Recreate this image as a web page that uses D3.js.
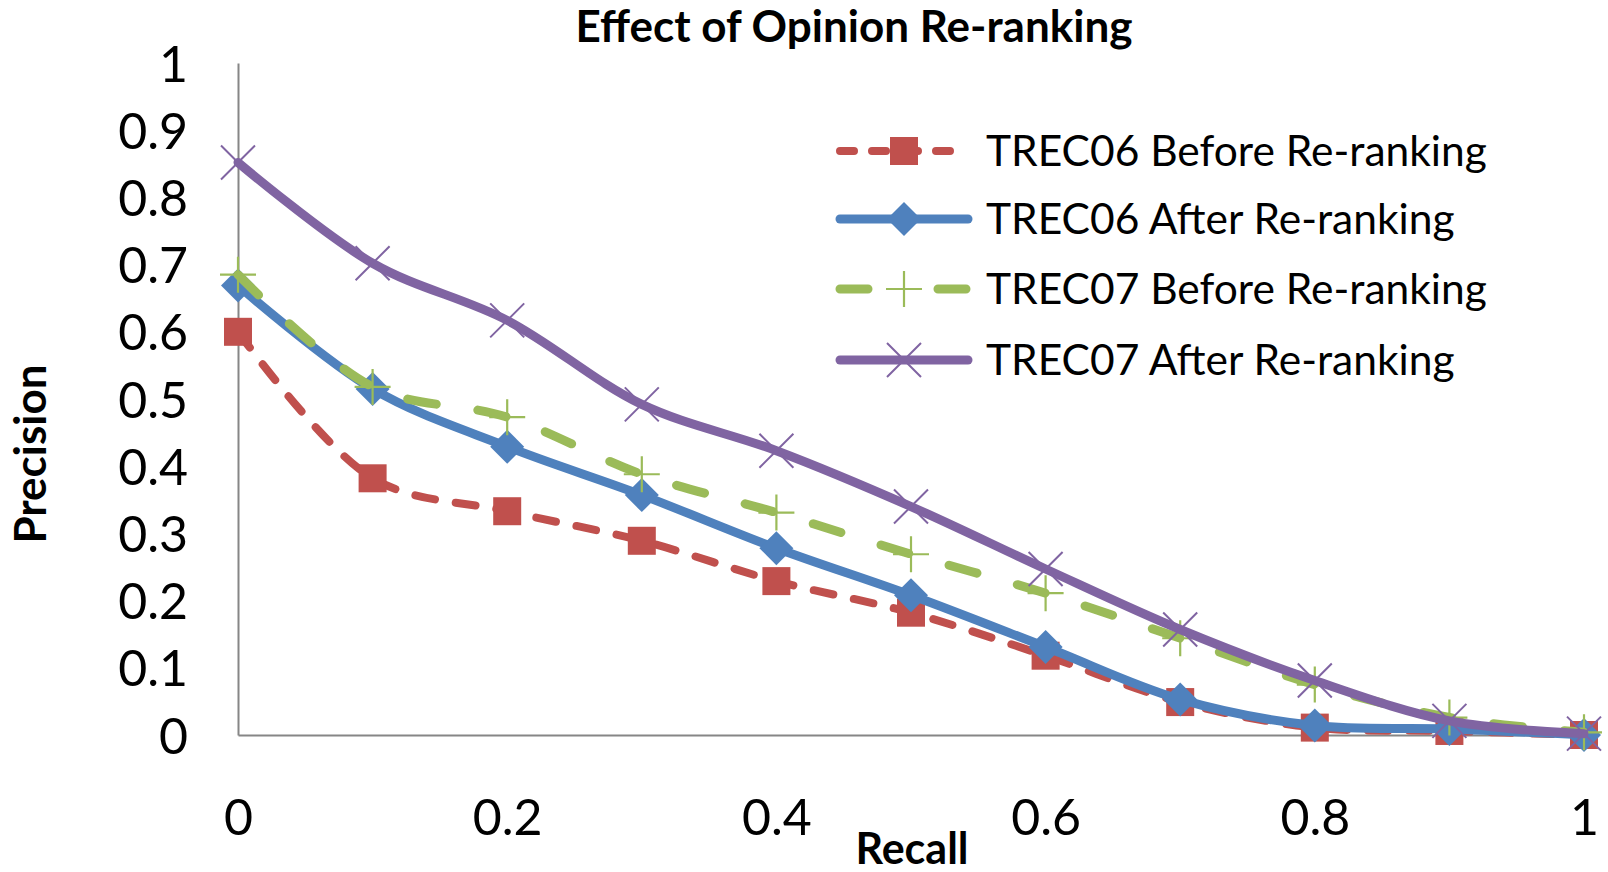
<!DOCTYPE html>
<html><head><meta charset="utf-8">
<script src="https://cdn.jsdelivr.net/npm/d3@7/dist/d3.min.js"></script>
<style>html,body{margin:0;padding:0;background:#fff;}svg{display:block;}</style>
</head><body>
<svg id="chart" width="1608" height="872"></svg>
<script>
const recall = [0, 0.1, 0.2, 0.3, 0.4, 0.5, 0.6, 0.7, 0.8, 0.9, 1.0];
const trec06Before = [0.60, 0.382, 0.333, 0.289, 0.229, 0.182, 0.118, 0.049, 0.011, 0.006, 0.0];
const trec06After  = [0.669, 0.515, 0.429, 0.357, 0.278, 0.208, 0.131, 0.053, 0.014, 0.009, 0.0];
const trec07Before = [0.685, 0.518, 0.473, 0.388, 0.331, 0.269, 0.211, 0.144, 0.075, 0.026, 0.004];
const trec07After  = [0.852, 0.702, 0.617, 0.492, 0.423, 0.340, 0.247, 0.157, 0.081, 0.021, 0.002];
const seriesNames = ["TREC06 Before Re-ranking", "TREC06 After Re-ranking", "TREC07 Before Re-ranking", "TREC07 After Re-ranking"];
const xTicks = [0, 0.2, 0.4, 0.6, 0.8, 1];
const yTicks = [0, 0.1, 0.2, 0.3, 0.4, 0.5, 0.6, 0.7, 0.8, 0.9, 1];

const series = [
  {name: seriesNames[0], values: trec06Before, color: "#C0504D", dash: "20 21", legendDash: "14 18", width: 8, marker: "square"},
  {name: seriesNames[1], values: trec06After,  color: "#4F81BD", dash: null, legendDash: null, width: 9, marker: "diamond"},
  {name: seriesNames[2], values: trec07Before, color: "#9BBB59", dash: "29 42", legendDash: "28 70", width: 9, marker: "plus"},
  {name: seriesNames[3], values: trec07After,  color: "#8064A2", dash: null, legendDash: null, width: 9, marker: "x"}
];

const svg = d3.select("#chart");
const x = d3.scaleLinear().domain([0, 1]).range([238, 1584]);
const y = d3.scaleLinear().domain([0, 1]).range([735, 63]);
const FONT = "Lato, 'Open Sans', sans-serif";

// title
svg.append("text").attr("x", 854).attr("y", 42).attr("text-anchor", "middle")
  .attr("font-family", FONT).attr("font-weight", "bold").attr("font-size", 44)
  .attr("fill", "#000").text("Effect of Opinion Re-ranking");

// axes
const xAxis = d3.axisBottom(x).tickValues(xTicks).tickSize(0).tickPadding(64)
  .tickFormat(d => d3.format("")(d));
const yAxis = d3.axisLeft(y).tickValues(yTicks).tickSize(0).tickPadding(50)
  .tickFormat(d => d3.format("")(d));
const gx = svg.append("g").attr("transform", `translate(0,${y(0)})`).call(xAxis);
const gy = svg.append("g").attr("transform", `translate(${x(0)},0)`).call(yAxis);
[gx, gy].forEach(g => {
  g.select(".domain").attr("stroke", "#868686").attr("stroke-width", 2);
  g.selectAll("text").attr("font-family", FONT).attr("font-size", 50).attr("fill", "#000");
});
gx.selectAll("text").attr("dy", "0.71em");
gy.selectAll("text").attr("dy", "0.36em");

// axis titles
svg.append("text").attr("x", 912).attr("y", 864).attr("text-anchor", "middle")
  .attr("font-family", FONT).attr("font-weight", "bold").attr("font-size", 43).text("Recall");
svg.append("text").attr("transform", "translate(46,454) rotate(-90)").attr("text-anchor", "middle")
  .attr("font-family", FONT).attr("font-weight", "bold").attr("font-size", 44).text("Precision");

const line = d3.line().x((d, i) => x(recall[i])).y(d => y(d)).curve(d3.curveCatmullRom.alpha(0.5));

function drawMarker(g, type, cx, cy, color) {
  if (type === "square") {
    g.append("rect").attr("x", cx - 14).attr("y", cy - 14).attr("width", 28).attr("height", 28).attr("fill", color);
  } else if (type === "diamond") {
    const r = 17;
    g.append("path").attr("d", `M${cx},${cy - r}L${cx + r},${cy}L${cx},${cy + r}L${cx - r},${cy}Z`).attr("fill", color);
  } else if (type === "plus") {
    const r = 18;
    g.append("path").attr("d", `M${cx - r},${cy}H${cx + r}M${cx},${cy - r}V${cy + r}`).attr("stroke", color).attr("stroke-width", 2.2).attr("fill", "none");
  } else if (type === "x") {
    const r = 17;
    g.append("path").attr("d", `M${cx - r},${cy - r}L${cx + r},${cy + r}M${cx - r},${cy + r}L${cx + r},${cy - r}`).attr("stroke", color).attr("stroke-width", 2).attr("fill", "none");
  }
}

series.forEach(s => {
  const g = svg.append("g");
  g.append("path").datum(s.values).attr("d", line).attr("fill", "none")
    .attr("stroke", s.color).attr("stroke-width", s.width)
    .attr("stroke-linecap", "round").attr("stroke-linejoin", "round")
    .attr("stroke-dasharray", s.dash);
  s.values.forEach((v, i) => drawMarker(g, s.marker, x(recall[i]), y(v), s.color));
});

// legend
const legendY = [151, 219, 289, 360];
series.forEach((s, i) => {
  const g = svg.append("g");
  const ly = legendY[i];
  g.append("line").attr("x1", 840).attr("x2", 968).attr("y1", ly).attr("y2", ly)
    .attr("stroke", s.color).attr("stroke-width", s.width).attr("stroke-linecap", "round")
    .attr("stroke-dasharray", s.legendDash);
  drawMarker(g, s.marker, 904, ly, s.color);
  g.append("text").attr("x", 986).attr("y", ly).attr("dy", "0.36em")
    .attr("font-family", FONT).attr("font-size", 42.5).attr("fill", "#000").text(s.name);
});
</script>
</body></html>
